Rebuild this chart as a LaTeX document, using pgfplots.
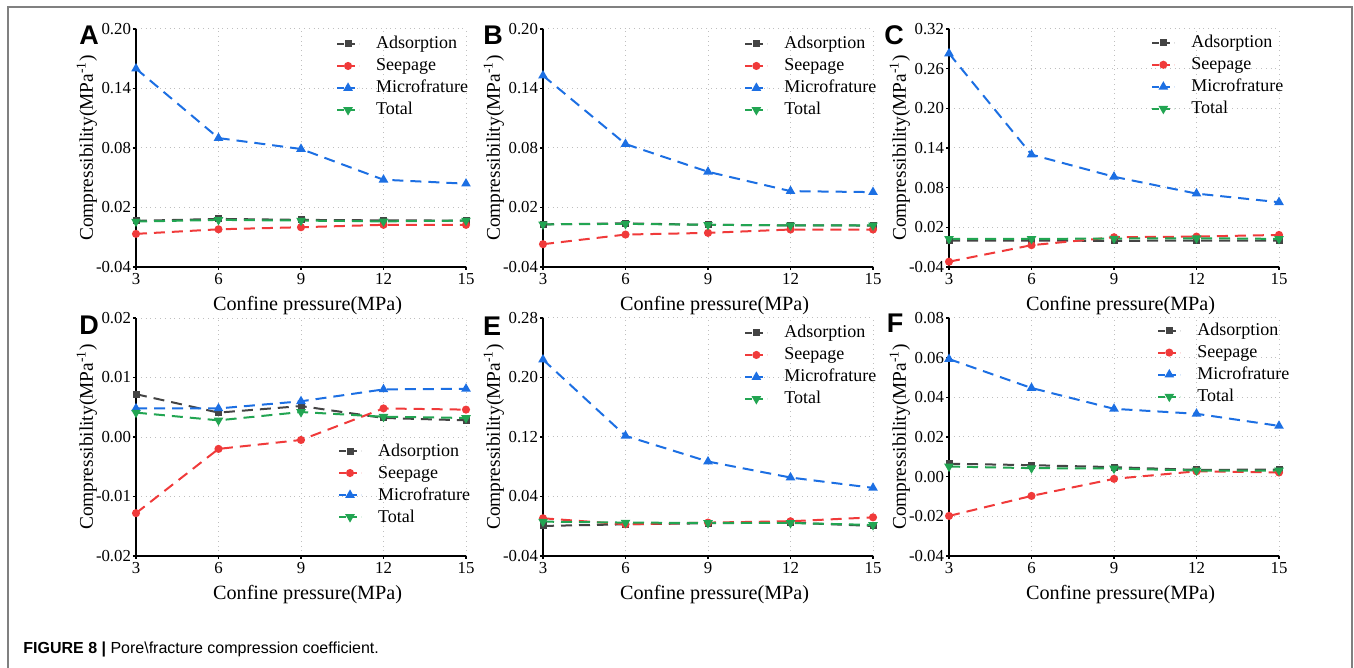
\documentclass[border=0pt]{standalone}
\usepackage{pgfplots}
\pgfplotsset{compat=1.18}
\usepackage{fontspec}
\setmainfont{Liberation Serif}
\newfontfamily\sansf{Liberation Sans}
\definecolor{cAds}{HTML}{444444}
\definecolor{cSeep}{HTML}{F03A3A}
\definecolor{cMic}{HTML}{1C6FE3}
\definecolor{cTot}{HTML}{22A552}
\definecolor{cFrame}{HTML}{808080}
\pgfplotsset{
  panel/.style={
    scale only axis, width=165pt, height=119pt,
    xmin=3, xmax=15, xtick={3,6,9,12,15},
    axis lines=left, axis line style={-, line width=1pt, black},
    tick align=outside, major tick length=1.5pt, tick style={black, line width=0.6pt},
    grid=major, grid style={dotted, line width=0.5pt, black!25},
    clip=false, scaled y ticks=false,
    ticklabel style={font=\fontsize{8.4}{9}\selectfont},
    /pgf/number format/assume math mode=true,
    y tick label style={/pgf/number format/fixed, /pgf/number format/fixed zerofill, /pgf/number format/precision=2, inner sep=0.8pt},
    x tick label style={inner sep=1.5pt},
    every axis x label/.style={at={(axis description cs:0.52,0)}, anchor=center, yshift=-19.5pt, font=\fontsize{10.1}{12}\selectfont},
    every axis y label/.style={at={(axis description cs:-0.149,0.5)}, rotate=90, anchor=center, font=\fontsize{9.7}{12}\selectfont},
    xlabel={Confine pressure(MPa)},
    ylabel={Compressibility(MPa\textsuperscript{-1})},
    legend cell align=left,
    legend style={draw=none, fill=none, anchor=north west, inner sep=0pt,
      font=\fontsize{9}{11}\selectfont,
      nodes={inner sep=1pt, text height=7pt, text depth=2pt},
      /tikz/every odd column/.append style={column sep=7pt}},
    legend image code/.code={\draw[mark repeat=2,mark phase=2,##1,dash pattern=on 3.5pt off 2pt] plot coordinates {(0pt,0pt) (5.5pt,0pt) (11pt,0pt)};},
  },
  ads/.style={color=cAds, mark=square*, mark size=1.25pt, line width=1pt, dash pattern=on 5.5pt off 3.5pt, mark options={solid}},
  seep/.style={color=cSeep, mark=*, mark size=1.5pt, line width=1pt, dash pattern=on 5.5pt off 3.5pt, mark options={solid}},
  mic/.style={color=cMic, mark=triangle*, mark size=1.8pt, line width=1pt, dash pattern=on 5.5pt off 3.5pt, mark options={solid}},
  tot/.style={color=cTot, mark=triangle*, mark size=1.8pt, line width=1pt, dash pattern=on 5.5pt off 3.5pt, mark options={solid, rotate=180}},
}
\begin{document}
\begin{tikzpicture}
\useasboundingbox (0,0) rectangle (677pt,334pt);
\draw[cFrame, line width=0.6pt] (4pt,0pt) -- (4pt,330.5pt) -- (676pt,330.5pt) -- (676pt,0pt);

% ---------- A ----------
\begin{axis}[panel, at={(68pt,200.5pt)}, anchor=south west,
  ymin=-0.04, ymax=0.20, ytick={-0.04,0.02,0.08,0.14,0.20},
  legend style={at={(0.605,0.985)}}]
\addplot[ads] coordinates {(3,0.0065)(6,0.0085)(9,0.0075)(12,0.007)(15,0.0068)};
\addplot[seep] coordinates {(3,-0.0066)(6,-0.002)(9,0.0001)(12,0.0025)(15,0.0025)};
\addplot[mic] coordinates {(3,0.160)(6,0.090)(9,0.079)(12,0.048)(15,0.044)};
\addplot[tot] coordinates {(3,0.0058)(6,0.0075)(9,0.0068)(12,0.006)(15,0.0068)};
\legend{Adsorption,Seepage,Microfrature,Total}
\end{axis}

% ---------- B ----------
\begin{axis}[panel, at={(271.5pt,200.5pt)}, anchor=south west,
  ymin=-0.04, ymax=0.20, ytick={-0.04,0.02,0.08,0.14,0.20},
  legend style={at={(0.609,0.985)}}]
\addplot[ads] coordinates {(3,0.003)(6,0.004)(9,0.0025)(12,0.002)(15,0.0018)};
\addplot[seep] coordinates {(3,-0.017)(6,-0.0073)(9,-0.0056)(12,-0.0022)(15,-0.0022)};
\addplot[mic] coordinates {(3,0.153)(6,0.084)(9,0.056)(12,0.0365)(15,0.0355)};
\addplot[tot] coordinates {(3,0.003)(6,0.0035)(9,0.0025)(12,0.002)(15,0.002)};
\legend{Adsorption,Seepage,Microfrature,Total}
\end{axis}

% ---------- C ----------
\begin{axis}[panel, at={(474.5pt,200.5pt)}, anchor=south west,
  ymin=-0.04, ymax=0.32, ytick={-0.04,0.02,0.08,0.14,0.20,0.26,0.32},
  legend style={at={(0.612,0.99)}}]
\addplot[ads] coordinates {(3,0.0)(6,0.0)(9,-0.0005)(12,0.0)(15,0.0)};
\addplot[seep] coordinates {(3,-0.032)(6,-0.007)(9,0.005)(12,0.006)(15,0.0085)};
\addplot[mic] coordinates {(3,0.283)(6,0.130)(9,0.0965)(12,0.071)(15,0.058)};
\addplot[tot] coordinates {(3,0.0025)(6,0.0025)(9,0.003)(12,0.0035)(15,0.0025)};
\legend{Adsorption,Seepage,Microfrature,Total}
\end{axis}

% ---------- D ----------
\begin{axis}[panel, at={(68pt,56pt)}, anchor=south west,
  ymin=-0.02, ymax=0.02, ytick={-0.02,-0.01,0,0.01,0.02},
  legend style={at={(0.611,0.489)}}]
\addplot[ads] coordinates {(3,0.0072)(6,0.0041)(9,0.0052)(12,0.0032)(15,0.0028)};
\addplot[seep] coordinates {(3,-0.0128)(6,-0.0020)(9,-0.0005)(12,0.0048)(15,0.0046)};
\addplot[mic] coordinates {(3,0.0048)(6,0.0048)(9,0.006)(12,0.008)(15,0.0081)};
\addplot[tot] coordinates {(3,0.0041)(6,0.0028)(9,0.0042)(12,0.0034)(15,0.0032)};
\legend{Adsorption,Seepage,Microfrature,Total}
\end{axis}

% ---------- E ----------
\begin{axis}[panel, at={(271.5pt,56pt)}, anchor=south west,
  ymin=-0.04, ymax=0.28, ytick={-0.04,0.04,0.12,0.20,0.28},
  legend style={at={(0.609,0.985)}}]
\addplot[ads] coordinates {(3,0.0004)(6,0.0026)(9,0.004)(12,0.0049)(15,0.0004)};
\addplot[seep] coordinates {(3,0.0107)(6,0.0026)(9,0.0049)(12,0.0067)(15,0.012)};
\addplot[mic] coordinates {(3,0.224)(6,0.1216)(9,0.087)(12,0.0655)(15,0.0516)};
\addplot[tot] coordinates {(3,0.0062)(6,0.0049)(9,0.0044)(12,0.0044)(15,0.0017)};
\legend{Adsorption,Seepage,Microfrature,Total}
\end{axis}

% ---------- F ----------
\begin{axis}[panel, at={(474.5pt,56pt)}, anchor=south west,
  ymin=-0.04, ymax=0.08, ytick={-0.04,-0.02,0,0.02,0.04,0.06,0.08},
  legend style={at={(0.63,0.995)}}]
\addplot[ads] coordinates {(3,0.0065)(6,0.0058)(9,0.0048)(12,0.0034)(15,0.0036)};
\addplot[seep] coordinates {(3,-0.0198)(6,-0.0097)(9,-0.0011)(12,0.0027)(15,0.0021)};
\addplot[mic] coordinates {(3,0.0593)(6,0.0447)(9,0.0342)(12,0.0317)(15,0.0256)};
\addplot[tot] coordinates {(3,0.0051)(6,0.0043)(9,0.0041)(12,0.0031)(15,0.0031)};
\legend{Adsorption,Seepage,Microfrature,Total}
\end{axis}

% panel letters
\begin{scope}[every node/.style={font=\sansf\bfseries\fontsize{13.5}{14}\selectfont, inner sep=0pt}]
\node at (44.5pt,316.5pt) {A};
\node at (246.5pt,316.5pt) {B};
\node at (447pt,316.5pt) {C};
\node at (44.5pt,171.5pt) {D};
\node at (246pt,171pt) {E};
\node at (447.5pt,172.5pt) {F};
\end{scope}

% caption
\node[anchor=west, inner sep=0pt, font=\sansf\fontsize{8}{9}\selectfont] at (11.5pt,9.5pt)
  {\textbf{FIGURE 8 |} Pore\textbackslash fracture compression coefficient.};
\end{tikzpicture}
\end{document}
